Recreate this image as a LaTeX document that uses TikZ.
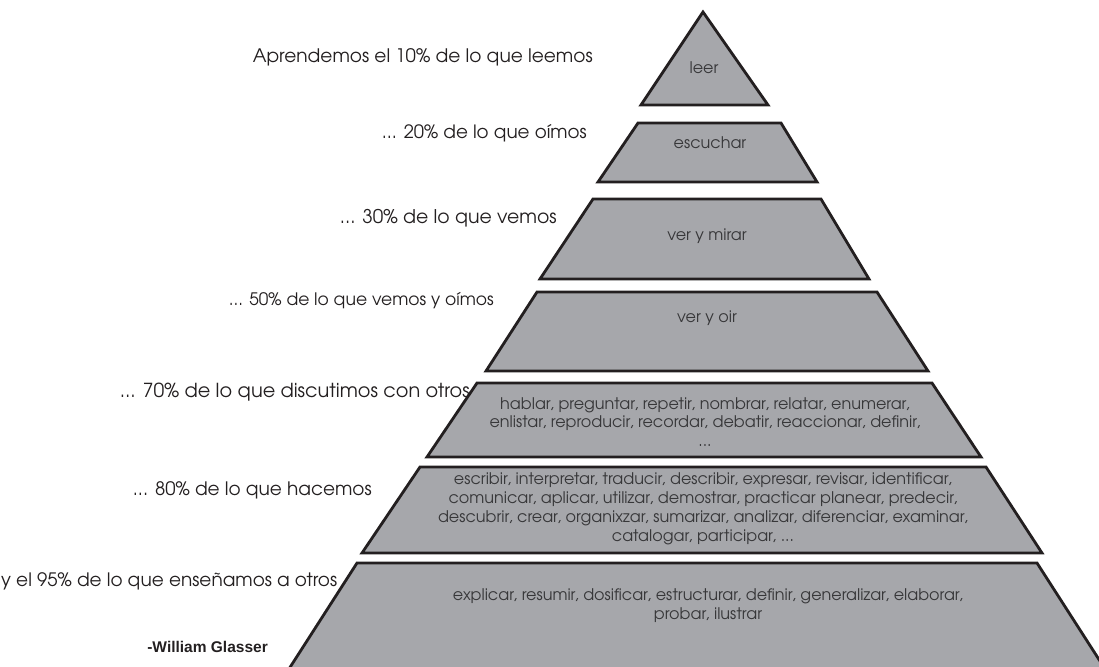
\documentclass[tikz,border=0pt]{standalone}
\usepackage{graphicx}
\usepackage{fontspec}
\setmainfont{TeX Gyre Adventor}
\newfontfamily\signfont{Liberation Sans}
\definecolor{slicefill}{RGB}{166,167,171}
\definecolor{slicedraw}{RGB}{35,31,32}
\definecolor{innertext}{RGB}{55,55,57}
\definecolor{labeltext}{RGB}{35,31,32}
\tikzset{
  slice/.style={fill=slicefill, draw=slicedraw, line width=2.8pt, line join=miter},
  inner/.style={font=\fontsize{16}{18.8}\selectfont, text=innertext, align=center, inner sep=0pt},
  lab/.style={font=\fontsize{16.5}{20}\selectfont, text=labeltext, inner sep=0pt},
}
\newcommand{\fitw}[2]{\resizebox{#1pt}{!}{#2}}
\begin{document}
\begin{tikzpicture}[x=1pt,y=-1pt]
\useasboundingbox (0,0) rectangle (1099,666);
\clip (0,0) rectangle (1099,666);
% slices
\draw[slice] (703,12) -- (768,105) -- (641,105) -- cycle;
\draw[slice] (638,123) -- (781,123) -- (817,182) -- (598,182) -- cycle;
\draw[slice] (593,199) -- (821,199) -- (869,279) -- (540,279) -- cycle;
\draw[slice] (537,292) -- (877,292) -- (928,371) -- (486,371) -- cycle;
\draw[slice] (477,383) -- (932,383) -- (981,457) -- (427,457) -- cycle;
\draw[slice] (420,467) -- (986,467) -- (1042,553) -- (362,553) -- cycle;
\draw[slice] (357,563) -- (1037,563) -- (1107,672) -- (287,672) -- cycle;
% inner texts
\node[inner] (t1) at (704,68) {leer};
\node[inner] (t2) at (710,143) {escuchar};
\node[inner] (t3) at (707,236) {ver y mirar};
\node[inner] (t4) at (707,318) {ver y oir};
\node[inner] (t5) at (705,422) {hablar, preguntar, repetir, nombrar, relatar, enumerar,\\enlistar, reproducir, recordar, debatir, reaccionar, definir,\\...};
\node[inner] (t6) at (703,509) {escribir, interpretar, traducir, describir, expresar, revisar, identificar,\\comunicar, aplicar, utilizar, demostrar, practicar planear, predecir,\\descubrir, crear, organixzar, sumarizar, analizar, diferenciar, examinar,\\catalogar, participar, ...};
\node[inner] (t7) at (708,606) {explicar, resumir, dosificar, estructurar, definir, generalizar, elaborar,\\probar, ilustrar};
% left labels
\node[lab, anchor=east] (l1) at (593,57) {\fitw{340}{Aprendemos el 10\% de lo que leemos}};
\node[lab, anchor=east] (l2) at (587,133) {\fitw{205}{... 20\% de lo que oímos}};
\node[lab, anchor=east] (l3) at (557,218) {\fitw{217}{... 30\% de lo que vemos}};
\node[lab, anchor=east] (l4) at (494,301) {\fitw{265}{... 50\% de lo que vemos y oímos}};
\node[lab, anchor=east] (l5) at (470,392) {\fitw{350}{... 70\% de lo que discutimos con otros}};
\node[lab, anchor=east] (l6) at (372,490) {\fitw{239}{... 80\% de lo que hacemos}};
\node[lab, anchor=west] (l7) at (1,581) {\fitw{336}{y el 95\% de lo que enseñamos a otros}};
\node[lab, anchor=east, font=\signfont\fontsize{15.5}{18}\selectfont\bfseries] (g) at (268,647) {-William Glasser};
\end{tikzpicture}
\end{document}
